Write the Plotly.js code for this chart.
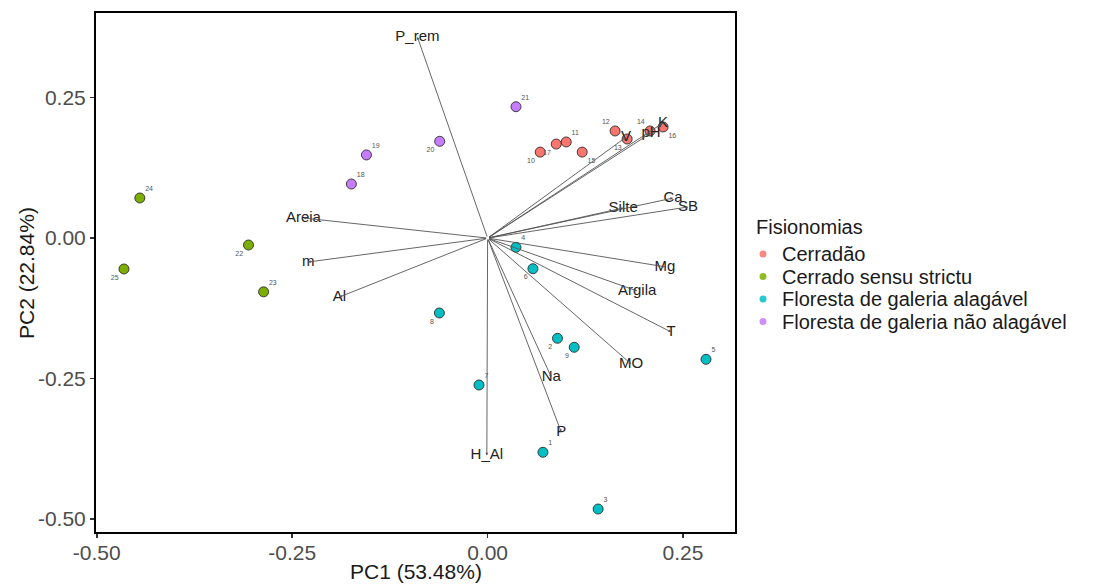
<!DOCTYPE html>
<html>
<head>
<meta charset="utf-8">
<script src="https://cdn.plot.ly/plotly-3.0.1.min.js"></script>
<style>html,body{margin:0;padding:0;background:#fff;}#chart{width:1115px;height:584px;}</style>
</head>
<body>
<div id="chart"></div>
<script>
// ---- data ----
var sampleId = ["1","2","3","4","5","6","7","8","9","10","11","12","13","14","15","16","17","18","19","20","21","22","23","24","25"];
var pc1 = [0.0708,0.0894,0.1414,0.0363,0.2794,0.0580,-0.0110,-0.0617,0.1108,
           0.0673,0.1006,0.1631,0.1785,0.2079,0.1210,0.2245,0.0878,
           -0.1743,-0.1550,-0.0613,0.0363,
           -0.3059,-0.2866,-0.4449,-0.4652];
var pc2 = [-0.3813,-0.1784,-0.4823,-0.0164,-0.2158,-0.0545,-0.2615,-0.1333,-0.1944,
           0.1531,0.1711,0.1907,0.1764,0.1907,0.1531,0.1978,0.1674,
           0.0963,0.1480,0.1723,0.2339,
           -0.0123,-0.0957,0.0714,-0.0550];
var group = ["Floresta de galeria alagável","Floresta de galeria alagável","Floresta de galeria alagável","Floresta de galeria alagável","Floresta de galeria alagável","Floresta de galeria alagável","Floresta de galeria alagável","Floresta de galeria alagável","Floresta de galeria alagável",
             "Cerradão","Cerradão","Cerradão","Cerradão","Cerradão","Cerradão","Cerradão","Cerradão",
             "Floresta de galeria não alagável","Floresta de galeria não alagável","Floresta de galeria não alagável","Floresta de galeria não alagável",
             "Cerrado sensu strictu","Cerrado sensu strictu","Cerrado sensu strictu","Cerrado sensu strictu"];
var labelPos = ["top right","bottom left","top right","top right","top right","bottom left","top right","bottom left","bottom left",
                "bottom left","top right","top left","bottom left","top left","bottom right","bottom right","bottom left",
                "top right","top right","bottom left","top right",
                "bottom left","top right","top right","bottom left"];
var groups = ["Cerradão","Cerrado sensu strictu","Floresta de galeria alagável","Floresta de galeria não alagável"];
var groupColors = ["#F8766D","#7CAE00","#00BFC4","#C77CFF"];

var loadNames = ["P_rem","H_Al","Na","P","MO","T","Argila","Mg","Silte","Ca","SB","K","pH","V","Areia","m","Al"];
var loadX = [-0.0898,-0.0010,0.0814,0.0942,0.1836,0.2347,0.1913,0.2270,0.1734,0.2372,0.2565,0.2245,0.2091,0.1772,-0.2356,-0.2293,-0.1895];
var loadY = [0.3580,-0.3870,-0.2471,-0.3452,-0.2241,-0.1672,-0.0942,-0.0511,0.0536,0.0713,0.0554,0.2051,0.1871,0.1798,0.0358,-0.0425,-0.1048];

var xTicks = [-0.5,-0.25,0,0.25];
var xTickText = ["-0.50","-0.25","0.00","0.25"];
var yTicks = [-0.5,-0.25,0,0.25];
var yTickText = ["-0.50","-0.25","0.00","0.25"];
var xTitle = "PC1 (53.48%)";
var yTitle = "PC2 (22.84%)";
var legendTitle = "Fisionomias";

// ---- geometry helpers (pixel -> paper) ----
var W = 1115, H = 584, L = 96, R = 735, T = 13, B = 532;
function px(x){ return (x - L) / (R - L); }
function py(y){ return (B - y) / (B - T); }

var FONT = "Liberation Sans, Arial, sans-serif";
var traces = [];
groups.forEach(function(g, gi){
  var xs=[], ys=[];
  for (var i=0;i<group.length;i++){ if(group[i]===g){ xs.push(pc1[i]); ys.push(pc2[i]); } }
  traces.push({
    type:"scatter", mode:"markers", name:g, x:xs, y:ys, showlegend:false,
    marker:{size:10, color:groupColors[gi], line:{color:"#2f2f2f", width:0.9}},
    hoverinfo:"skip"
  });
});
// sample number labels
traces.push({
  type:"scatter", mode:"markers+text", x:pc1, y:pc2, text:sampleId, textposition:labelPos,
  marker:{size:7, color:"rgba(0,0,0,0)"}, showlegend:false, hoverinfo:"skip",
  textfont:{size:7, color:"#555555", family:FONT}
});
// loading labels
traces.push({
  type:"scatter", mode:"text", x:loadX, y:loadY, text:loadNames, textposition:"middle center",
  showlegend:false, hoverinfo:"skip",
  textfont:{size:15, color:"#222222", family:FONT}
});

var annotations = loadNames.map(function(n,i){
  return {x:loadX[i], y:loadY[i], ax:0, ay:0, xref:"x", yref:"y", axref:"x", ayref:"y",
          text:"", showarrow:true, arrowhead:2, arrowsize:0.6, arrowwidth:0.9, arrowcolor:"#555555"};
});
// axis titles
annotations.push({xref:"paper", yref:"paper", x:px(415.5), y:py(571), xanchor:"center", yanchor:"middle",
  text:xTitle, showarrow:false, font:{size:21, color:"#1a1a1a", family:FONT}});
annotations.push({xref:"paper", yref:"paper", x:px(26), y:py(273), xanchor:"center", yanchor:"middle",
  text:yTitle, textangle:-90, showarrow:false, font:{size:21, color:"#1a1a1a", family:FONT}});
// manual legend
annotations.push({xref:"paper", yref:"paper", x:px(754), y:py(227), xanchor:"left", yanchor:"middle",
  text:legendTitle, showarrow:false, font:{size:20, color:"#1a1a1a", family:FONT}});
var shapes = [];
var legY = [254, 276.5, 299, 321.5];
groups.forEach(function(g, gi){
  annotations.push({xref:"paper", yref:"paper", x:px(780), y:py(legY[gi]), xanchor:"left", yanchor:"middle",
    text:g, showarrow:false, font:{size:20, color:"#1a1a1a", family:FONT}});
  shapes.push({type:"circle", xref:"paper", yref:"paper",
    x0:px(759.5), x1:px(766.5), y0:py(legY[gi]+3.5), y1:py(legY[gi]-3.5),
    fillcolor:groupColors[gi], line:{color:groupColors[gi], width:0}, opacity:0.85});
});

var axisCommon = {
  showgrid:false, zeroline:false, showline:true, mirror:true, linecolor:"#000000", linewidth:2,
  ticks:"outside", ticklen:4, tickwidth:1.5, tickcolor:"#333333",
  tickfont:{size:21, color:"#4d4d4d", family:FONT}
};
var layout = {
  width:W, height:H,
  margin:{l:L, r:W-R, t:T, b:H-B, pad:0},
  paper_bgcolor:"#ffffff", plot_bgcolor:"#ffffff",
  font:{family:FONT},
  xaxis:Object.assign({}, axisCommon, {range:[-0.501,0.3165], tickvals:xTicks, ticktext:xTickText, ticklabelstandoff:-3}),
  yaxis:Object.assign({}, axisCommon, {range:[-0.5232,0.4007], tickvals:yTicks, ticktext:yTickText}),
  annotations:annotations,
  shapes:shapes,
  showlegend:false
};
Plotly.newPlot("chart", traces, layout, {staticPlot:true, displayModeBar:false});
</script>
</body>
</html>
